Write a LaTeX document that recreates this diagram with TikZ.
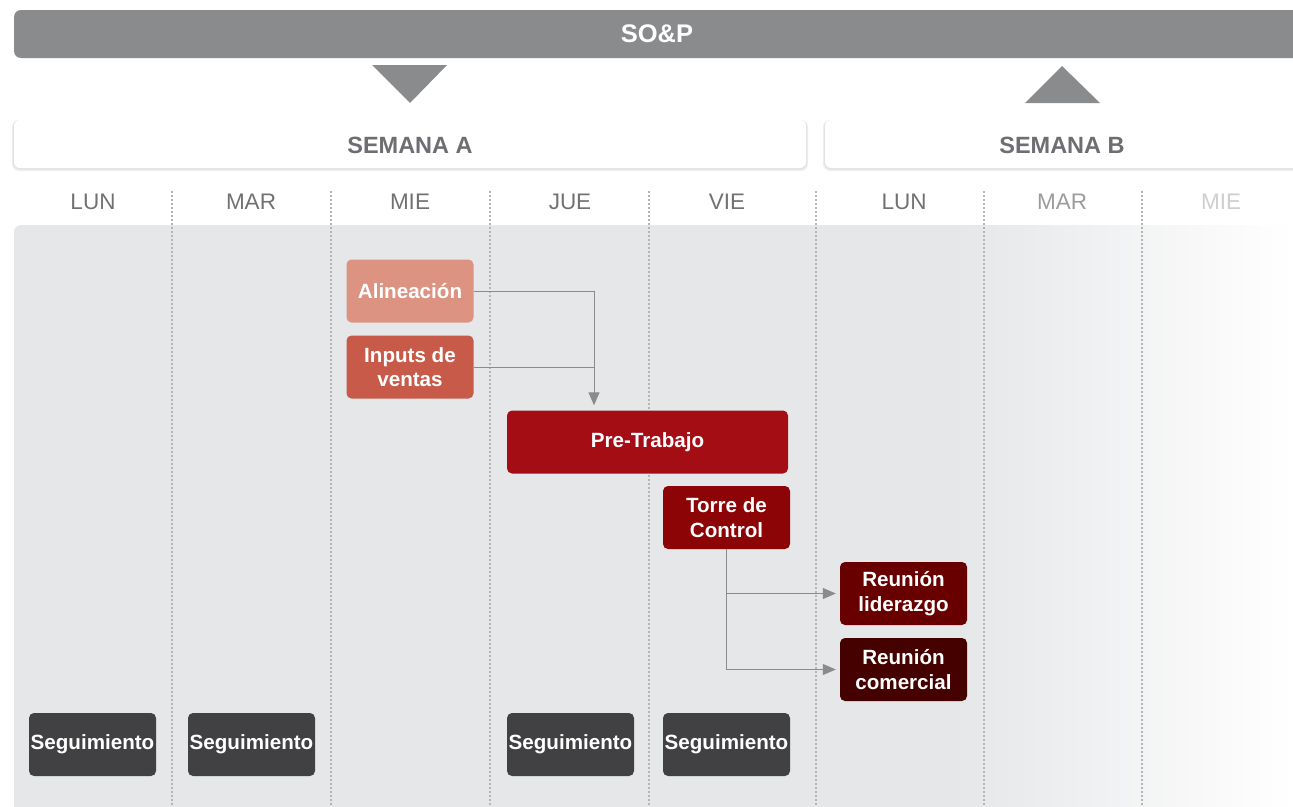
\documentclass[tikz,border=0pt]{standalone}
\usepackage{fontspec}
\setmainfont{Liberation Sans}
\usetikzlibrary{arrows.meta,shadows,calc}
\definecolor{bargray}{HTML}{8A8B8D}
\definecolor{semtxt}{HTML}{6D6E71}
\definecolor{daytxt}{HTML}{707173}
\definecolor{daytxtB}{HTML}{9A9B9D}
\definecolor{daytxtC}{HTML}{CDCED0}
\definecolor{panel}{HTML}{E6E7E9}
\definecolor{sepgray}{HTML}{B3B4B6}
\definecolor{cAli}{HTML}{DC9382}
\definecolor{cInp}{HTML}{C85A4A}
\definecolor{cPre}{HTML}{A50D14}
\definecolor{cTor}{HTML}{8C0406}
\definecolor{cLid}{HTML}{690000}
\definecolor{cCom}{HTML}{450000}
\definecolor{cSeg}{HTML}{414143}
\definecolor{shadowgray}{HTML}{D8D9DB}
\tikzset{
  taskbox/.style={rounded corners=5pt, minimum width=127pt, minimum height=63pt, inner sep=0pt,
    text=white, font=\fontsize{20.6}{24.5}\selectfont\bfseries, align=center},
  weekbox/.style={fill=white, rounded corners=6pt},
  weekshadow/.style={fill=shadowgray, opacity=0.45, rounded corners=7pt},
  daylbl/.style={font=\fontsize{22.5}{26}\selectfont, text=daytxt},
  sepline/.style={draw=sepgray, line width=1.6pt, dash pattern=on 1.6pt off 2.4pt},
  conn/.style={draw=bargray, line width=1pt},
  tip/.style={-{Triangle[length=13pt,width=11pt]}}
}
\begin{document}
\begin{tikzpicture}[x=1pt,y=-1pt]
\useasboundingbox (0,0) rectangle (1293,806);
\clip (0,0) rectangle (1293,806);
% top bar
\fill[bargray, rounded corners=7pt] (14,10) rectangle (1320,58);
\node[text=white, font=\fontsize{25.5}{30}\selectfont\bfseries] (sop) at (657,34) {SO\&P};
% triangles
\fill[bargray] (372,65) -- (447,65) -- (410,103) -- cycle;
\fill[bargray] (1025,103) -- (1100,103) -- (1062,66) -- cycle;
% week boxes with soft shadow
\fill[weekshadow] (12,120) rectangle (808,171);
\fill[weekshadow, opacity=0.6] (13,120) rectangle (807,169.5);
\fill[weekbox] (14,120) rectangle (806,168);
\fill[weekshadow] (823,120) rectangle (1330,171);
\fill[weekshadow, opacity=0.6] (824,120) rectangle (1330,169.5);
\fill[weekbox] (825,120) rectangle (1330,168);
\node[text=semtxt, font=\fontsize{23.5}{28}\selectfont\bfseries] (semA) at (410,145) {SEMANA A};
\node[text=semtxt, font=\fontsize{23.5}{28}\selectfont\bfseries] (semB) at (1062,145) {SEMANA B};
% panel
\fill[panel, rounded corners=7pt] (14,225) rectangle (1000,830);
\shade[left color=panel, right color=white] (960,225) rectangle (1293,830);
% day labels
\node[daylbl] (d1) at (93,202) {LUN};
\node[daylbl] (d2) at (251,202) {MAR};
\node[daylbl] (d3) at (410,202) {MIE};
\node[daylbl] (d4) at (570,202) {JUE};
\node[daylbl] (d5) at (727,202) {VIE};
\node[daylbl] (d6) at (904,202) {LUN};
\node[daylbl, text=daytxtB] (d7) at (1062,202) {MAR};
\node[daylbl, text=daytxtC] (d8) at (1221,202) {MIE};
% separators
\foreach \x in {172,331,490,649,816,984,1142} {
  \draw[sepline] (\x,191) -- (\x,806);
}
% task boxes
\node[taskbox, fill=cAli] (ali) at (410,291) {Alineación};
\node[taskbox, fill=cInp] (inp) at (410,367) {Inputs de\\ventas};
\node[taskbox, fill=cPre, minimum width=281pt] (pre) at (647.5,442) {Pre-Trabajo};
\node[taskbox, fill=cTor] (tor) at (726.5,517.5) {Torre de\\Control};
\node[taskbox, fill=cLid] (lid) at (903.5,593.5) {Reunión\\liderazgo};
\node[taskbox, fill=cCom] (com) at (903.5,669.5) {Reunión\\comercial};
\node[taskbox, fill=cSeg] (s1) at (92.5,744.5) {Seguimiento};
\node[taskbox, fill=cSeg] (s2) at (251.5,744.5) {Seguimiento};
\node[taskbox, fill=cSeg] (s3) at (570.5,744.5) {Seguimiento};
\node[taskbox, fill=cSeg] (s4) at (726.5,744.5) {Seguimiento};
% connectors
\coordinate (pretop) at ([xshift=-53.5pt, yshift=5pt]pre.north);
\draw[conn, tip] (ali.east) -| (pretop);
\draw[conn] (inp.east) -- (inp.east -| pretop);
\draw[conn, tip] (tor.south) |- ([xshift=-4pt]com.west);
\draw[conn, tip] (tor.south |- lid.west) -- ([xshift=-4pt]lid.west);
\end{tikzpicture}
\end{document}
